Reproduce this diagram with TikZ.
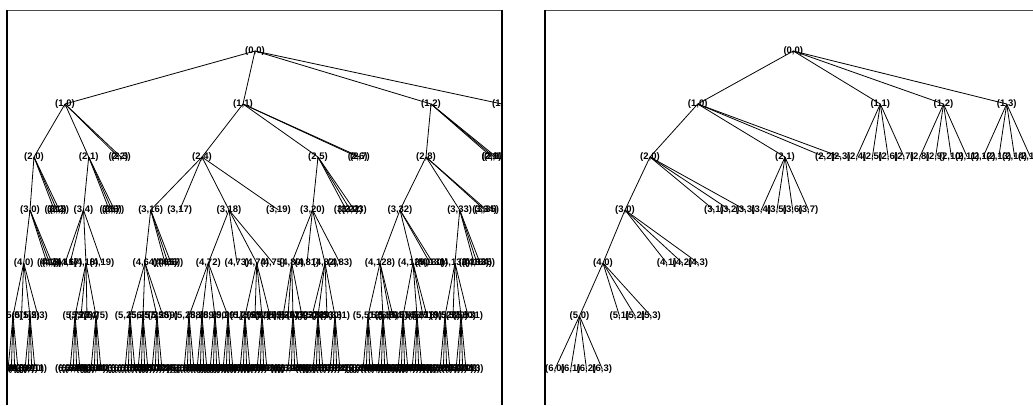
\documentclass[tikz,border=0pt]{standalone}
\usepackage{fontspec}
\setmainfont{Liberation Sans}
\begin{document}
\begin{tikzpicture}[x=1pt,y=-1pt,
  lbl/.style={font=\fontsize{9.5}{11}\selectfont\bfseries, inner sep=0pt, anchor=center},
  edge/.style={line width=0.8pt, black},
  vframe/.style={line width=1.9pt, black},
  hframe/.style={line width=0.9pt, black!70}]
\useasboundingbox (0,0) rectangle (1033,405);
% ---------------- left panel ----------------
\begin{scope}
\clip (7,0) rectangle (502,405);
\node[lbl] (L-0-0) at (255,51) {(0,0)};
\foreach \i/\x in {0/65,1/243,2/431,3/502}
  \node[lbl] (L-1-\i) at (\x,104) {(1,\i)};
\foreach \i/\x in {0/34,1/88.7,2/118.5,3/121,4/202,5/318,6/357.7,7/360,8/426,9/491.7,10/494,11/496.3}
  \node[lbl] (L-2-\i) at (\x,157) {(2,\i)};
\foreach \i/\x in {0/30,1/54.3,2/56.8,3/59.3,4/83.5,5/109.3,6/111.9,7/114.5,16/150.7,17/179.7,18/229,19/278.5,20/312.5,21/346.3,22/350.3,23/354.3,32/400,33/459.7,34/484.7,35/486.7}
  \node[lbl] (L-3-\i) at (\x,210) {(3,\i)};
\foreach \i/\x in {0/23.7,1/47,2/49.5,3/52,16/65,17/70,18/86,19/102,64/145,65/165,66/168,67/171,72/208.3,73/237,74/256.7,75/273,80/291.7,81/307,82/325,83/340,128/380,129/413,130/430,131/433,132/455,133/474,134/477,135/480}
  \node[lbl] (L-4-\i) at (\x,263) {(4,\i)};
\foreach \i/\x in {0/13,1/21.5,2/30,3/38,72/75,73/81,74/87,75/96,256/130,257/143,258/157,259/163,288/189,289/202,290/215,291/228,296/245,297/255,298/262,299/270,320/283,321/288,322/293,323/302,328/312,329/318,330/327,331/335,512/368,513/383,514/390,515/393,516/403,517/417,518/423,519/427,528/445,529/453,530/461,531/468}
  \node[lbl] (L-5-\i) at (\x,316) {(5,\i)};
\foreach \i/\x in {0/13,2/30,72/75,75/96,256/130,257/143,258/157,288/189,289/202,290/215,291/228,296/245,298/262,322/293,329/318,331/335,512/368,513/383,516/403,517/417,528/445,530/461} {
  \foreach \j in {0,...,3} {
    \pgfmathtruncatemacro\c{4*\i+\j}
    \pgfmathsetmacro\xx{\x+(\j-1.5)*3.3}
    \node[lbl] (L-6-\c) at (\xx,369) {(6,\c)};
  }
}
\foreach \d/\i in {0/0,1/0,1/1,1/2,2/0,2/1,2/4,2/5,2/8,3/0,3/4,3/16,3/18,3/20,3/32,3/33,4/0,4/18,4/64,4/72,4/74,4/80,4/82,4/128,4/129,4/132,5/0,5/2,5/72,5/75,5/256,5/257,5/258,5/288,5/289,5/290,5/291,5/296,5/298,5/322,5/329,5/331,5/512,5/513,5/516,5/517,5/528,5/530} {
  \pgfmathtruncatemacro\dd{\d+1}
  \foreach \j in {0,...,3} {
    \pgfmathtruncatemacro\c{4*\i+\j}
    \draw[edge] (L-\d-\i.center) -- (L-\dd-\c.center);
  }
}
\end{scope}
% ---------------- right panel ----------------
\begin{scope}
\clip (545,0) rectangle (1033,405);
\node[lbl] (R-0-0) at (793.3,51) {(0,0)};
\foreach \i/\x in {0/697.7,1/880.3,2/943.5,3/1006.7}
  \node[lbl] (R-1-\i) at (\x,104) {(1,\i)};
\node[lbl] (R-2-0) at (650,157) {(2,0)};
\node[lbl] (R-2-1) at (785,157) {(2,1)};
\foreach \k in {2,...,15} {
  \pgfmathsetmacro\xx{825+15.8*(\k-2)}
  \node[lbl] (R-2-\k) at (\xx,157) {(2,\k)};
}
\node[lbl] (R-3-0) at (625,210) {(3,0)};
\foreach \k in {1,...,7} {
  \pgfmathsetmacro\xx{714+15.75*(\k-1)}
  \node[lbl] (R-3-\k) at (\xx,210) {(3,\k)};
}
\foreach \i/\x in {0/603,1/666.75,2/682.5,3/698.25}
  \node[lbl] (R-4-\i) at (\x,263) {(4,\i)};
\foreach \i/\x in {0/579.5,1/619.5,2/635.25,3/651}
  \node[lbl] (R-5-\i) at (\x,316) {(5,\i)};
\foreach \i/\x in {0/555,1/570.75,2/586.5,3/602.25}
  \node[lbl] (R-6-\i) at (\x,369) {(6,\i)};
\foreach \d/\i in {0/0,1/0,1/1,1/2,1/3,2/0,2/1,3/0,4/0,5/0} {
  \pgfmathtruncatemacro\dd{\d+1}
  \foreach \j in {0,...,3} {
    \pgfmathtruncatemacro\c{4*\i+\j}
    \draw[edge] (R-\d-\i.center) -- (R-\dd-\c.center);
  }
}
\end{scope}
% ---------------- frames ----------------
\coordinate (fl-top) at (7,10);
\coordinate (fl-bot) at (7,405);
\coordinate (fr-top) at (502,10);
\coordinate (fr-bot) at (502,405);
\coordinate (gl-top) at (545,10);
\coordinate (gl-bot) at (545,405);
\coordinate (gr-top) at (1033,10);
\draw[hframe] (fl-top) -- (fr-top);
\draw[hframe] (gl-top) -- (gr-top);
\draw[vframe] (fl-top) -- (fl-bot);
\draw[vframe] (fr-top) -- (fr-bot);
\draw[vframe] (gl-top) -- (gl-bot);
\end{tikzpicture}
\end{document}
